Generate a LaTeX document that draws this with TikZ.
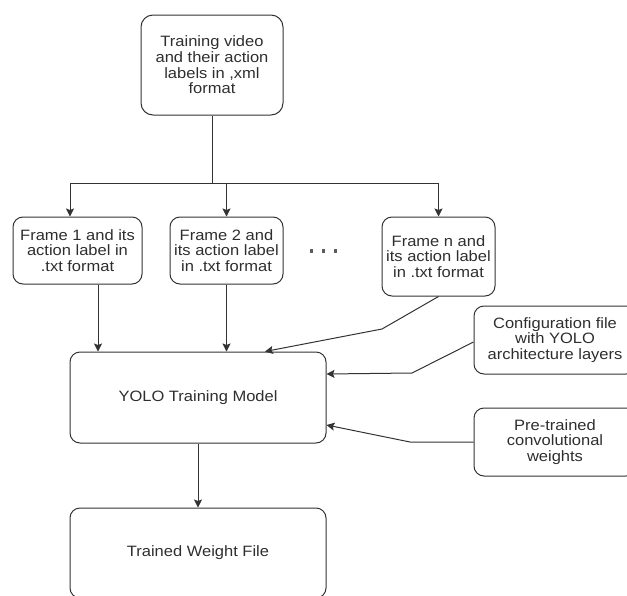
\documentclass[tikz,border=0pt]{standalone}
\usepackage{fontspec}
\setmainfont[FakeStretch=1.1]{Liberation Sans}
\usetikzlibrary{arrows.meta}
\definecolor{ink}{HTML}{333333}
\tikzstyle{block}=[draw=ink,rounded corners=10pt,align=center,inner sep=2pt,text=ink!90!black,font=\fontsize{15}{15.7}\selectfont]
\tikzstyle{link}=[draw=ink,-{Stealth[length=8pt,width=8pt,inset=1.5pt]}]

\begin{document}
\begin{tikzpicture}[x=1pt,y=-1pt,line width=1pt]
\clip (0,0) rectangle (627,595);
  \node[block,minimum width=142pt,minimum height=100pt,rounded corners=12pt] (video) at (212,65) {Training video\\and their action\\labels in ,xml\\format};
  \node[block,minimum width=129pt,minimum height=67pt] (f1) at (77.5,250.5) {Frame 1 and its\\action label in\\.txt format};
  \node[block,minimum width=113pt,minimum height=67pt] (f2) at (226.5,250.5) {Frame 2 and\\its action label\\in .txt format};
  \node[block,minimum width=113pt,minimum height=79pt] (fn) at (438.5,256.5) {Frame n and\\its action label\\in .txt format};
  \node[text=ink!80,inner sep=0pt] (dots) at (323,251) {\rule{3pt}{3.5pt}\hspace{9pt}\rule{3pt}{3.5pt}\hspace{9pt}\rule{3pt}{3.5pt}};
  \node[block,minimum width=256pt,minimum height=91pt] (yolo) at (198,397.5) {YOLO Training Model};
  \node[block,minimum width=162pt,minimum height=68pt] (cfg) at (555,340) {Configuration file\\with YOLO\\architecture layers};
  \node[block,minimum width=162pt,minimum height=68pt] (pre) at (555,442) {Pre-trained\\convolutional\\weights};
  \node[block,minimum width=256pt,minimum height=90pt] (trained) at (198,553) {Trained Weight File};
\coordinate (split) at (212,183);
\draw[draw=ink] (video) -- (split);
\draw[link] (split) -| ([xshift=-7.5pt]f1.north);
\draw[link] (split) -| (f2.north);
\draw[link] (split) -| (fn.north);
\draw[link] ([xshift=20.5pt]f1.south) -- ([xshift=20.5pt]f1.south |- yolo.north);
\draw[link] (f2) -- (f2 |- yolo.north);
\draw[link] (fn.south) -- (382,329) -- ([xshift=67pt]yolo.north);
\draw[link] ([yshift=-2pt]cfg.west) -- (412,373) -- ([yshift=23.5pt]yolo.east);
\draw[link] (pre.west) -- (410,442) -- ([yshift=-27.5pt]yolo.east);
\draw[link] (yolo) -- (trained);
\end{tikzpicture}
\end{document}
